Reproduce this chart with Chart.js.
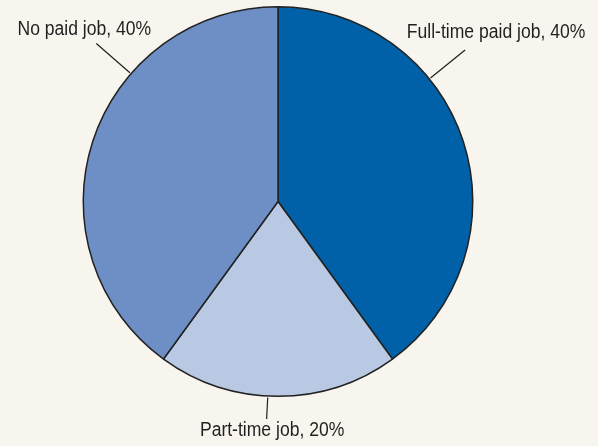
<!DOCTYPE html>
<html>
<head>
<meta charset="utf-8">
<script src="https://cdn.jsdelivr.net/npm/chart.js@4/dist/chart.umd.min.js"></script>
<style>
  html, body { margin: 0; padding: 0; background: #F8F5EF; }
  canvas { display: block; }
</style>
</head>
<body>
<canvas id="c" width="598" height="446"></canvas>
<script>
const categories = ['Full-time paid job', 'Part-time job', 'No paid job'];
const shares = [40, 20, 40];
const sliceColors = ['#0061A8', '#B9C9E4', '#6E8FC5'];

// label placement (angle offset from slice middle, in degrees; leader length; text offset)
const labelPlacement = [
  { angle: -21, len: 46, dx: 31, dy: -12 },
  { angle: 3, len: 23, dx: 5.5, dy: 17 },
  { angle: 23, len: 46, dx: -12, dy: -9 }
];

const bgPlugin = {
  id: 'bg',
  beforeDraw(chart) {
    const ctx = chart.ctx;
    ctx.save();
    ctx.fillStyle = '#F8F5EF';
    ctx.fillRect(0, 0, chart.width, chart.height);
    ctx.restore();
  }
};

const leaderLabels = {
  id: 'leaderLabels',
  afterDraw(chart) {
    const ctx = chart.ctx;
    const meta = chart.getDatasetMeta(0);
    ctx.save();
    ctx.strokeStyle = '#231F20';
    ctx.lineWidth = 1.2;
    ctx.fillStyle = '#231F20';
    ctx.font = '19.5px "Liberation Sans", Arial, sans-serif';
    ctx.textAlign = 'center';
    ctx.textBaseline = 'alphabetic';
    meta.data.forEach((arc, i) => {
      const p = arc.getProps(['x', 'y', 'startAngle', 'endAngle', 'outerRadius'], true);
      const pl = labelPlacement[i];
      const a = (p.startAngle + p.endAngle) / 2 + pl.angle * Math.PI / 180;
      const r0 = p.outerRadius + 1.5;
      const r1 = p.outerRadius + pl.len;
      const x0 = p.x + Math.cos(a) * r0, y0 = p.y + Math.sin(a) * r0;
      const x1 = p.x + Math.cos(a) * r1, y1 = p.y + Math.sin(a) * r1;
      ctx.beginPath();
      ctx.moveTo(x0, y0);
      ctx.lineTo(x1, y1);
      ctx.stroke();
      const text = categories[i] + ', ' + shares[i] + '%';
      ctx.save();
      ctx.translate(x1 + pl.dx, y1 + pl.dy);
      ctx.scale(0.9, 1);
      ctx.fillText(text, 0, 0);
      ctx.restore();
    });
    ctx.restore();
  }
};

new Chart(document.getElementById('c'), {
  type: 'pie',
  data: {
    labels: categories,
    datasets: [{
      data: shares,
      backgroundColor: sliceColors,
      borderColor: '#222222',
      borderWidth: 1.5
    }]
  },
  options: {
    responsive: false,
    animation: false,
    layout: { padding: { left: 0, right: 42, top: 6, bottom: 49 } },
    plugins: {
      legend: { display: false },
      tooltip: { enabled: false }
    }
  },
  plugins: [bgPlugin, leaderLabels]
});
</script>
</body>
</html>
